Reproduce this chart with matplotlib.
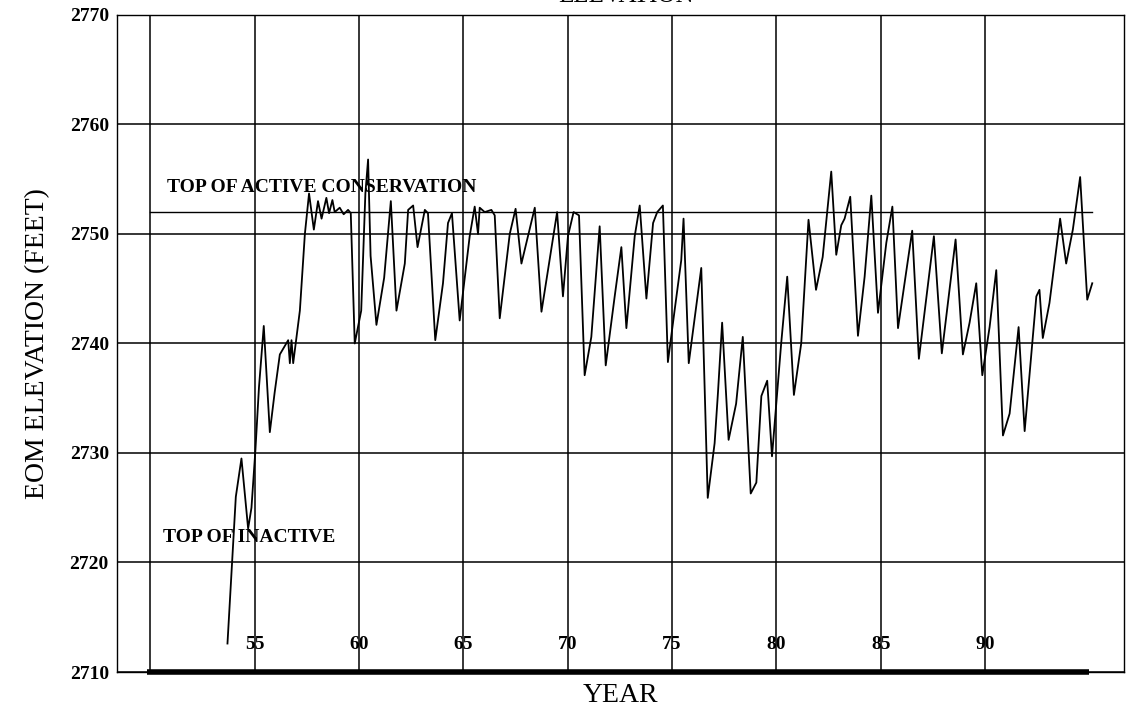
import matplotlib
matplotlib.use("Agg")
import matplotlib.pyplot as plt

# end-of-month elevation (year = 19xx)
years = [53.69, 54.09, 54.36, 54.68, 54.84, 55.03, 55.2, 55.43, 55.72, 55.95,
         56.2, 56.6, 56.68, 56.76, 56.84, 57.16, 57.4, 57.6, 57.83, 58.03,
         58.2, 58.43, 58.56, 58.72, 58.83, 59.07, 59.26, 59.47, 59.6, 59.79,
         60.1, 60.3, 60.43, 60.55, 60.83, 61.2, 61.52, 61.79, 62.19, 62.35,
         62.59, 62.8, 63.15, 63.3, 63.65, 64.02, 64.26, 64.45, 64.82, 65.3,
         65.54, 65.7, 65.78, 66.02, 66.34, 66.5, 66.74, 67.22, 67.5, 67.78,
         68.42, 68.74, 69.49, 69.77, 70.01, 70.28, 70.54, 70.81, 71.13, 71.53,
         71.82, 72.25, 72.57, 72.81, 73.21, 73.45, 73.77, 74.09, 74.29, 74.56,
         74.8, 75.12, 75.44, 75.55, 75.8, 76.4, 76.71, 77.04, 77.2, 77.4,
         77.71, 78.07, 78.39, 78.77, 79.04, 79.28, 79.56, 79.79, 80.23, 80.52,
         80.84, 81.19, 81.54, 81.9, 82.22, 82.63, 82.87, 83.11, 83.27, 83.54,
         83.91, 84.23, 84.55, 84.87, 85.27, 85.56, 85.83, 86.51, 86.83, 87.55,
         87.93, 88.59, 88.94, 89.26, 89.58, 89.87, 90.22, 90.54, 90.86, 91.18,
         91.61, 91.9, 92.46, 92.61, 92.77, 93.09, 93.41, 93.6, 93.89, 94.21,
         94.56, 94.77, 94.9, 95.14]
elevation = [2712.6, 2726.0, 2729.5, 2723.1, 2725.0, 2730.3, 2736.0, 2741.6, 2731.9, 2735.5,
             2739.0, 2740.3, 2738.2, 2740.3, 2738.2, 2743.0, 2750.0, 2753.7, 2750.4, 2753.0,
             2751.4, 2753.3, 2751.9, 2753.1, 2752.0, 2752.4, 2751.8, 2752.2, 2751.9, 2740.0,
             2743.0, 2753.7, 2756.8, 2748.0, 2741.7, 2746.0, 2753.0, 2743.0, 2747.3, 2752.2,
             2752.6, 2748.8, 2752.2, 2751.9, 2740.3, 2745.5, 2751.0, 2751.9, 2742.1, 2749.8,
             2752.5, 2750.0, 2752.4, 2752.0, 2752.2, 2751.7, 2742.3, 2750.0, 2752.3, 2747.3,
             2752.4, 2742.9, 2752.0, 2744.3, 2749.8, 2752.0, 2751.7, 2737.1, 2740.6, 2750.7,
             2738.0, 2744.3, 2748.8, 2741.4, 2749.8, 2752.6, 2744.1, 2751.0, 2752.0, 2752.6,
             2738.3, 2743.0, 2747.6, 2751.4, 2738.2, 2746.9, 2725.9, 2730.9, 2735.5, 2741.9,
             2731.2, 2734.5, 2740.6, 2726.3, 2727.3, 2735.2, 2736.6, 2729.7, 2740.0, 2746.1,
             2735.3, 2740.0, 2751.3, 2744.9, 2747.9, 2755.7, 2748.1, 2750.8, 2751.4, 2753.4,
             2740.7, 2746.1, 2753.5, 2742.8, 2749.2, 2752.5, 2741.4, 2750.3, 2738.6, 2749.8,
             2739.1, 2749.5, 2739.0, 2741.9, 2745.5, 2737.1, 2741.5, 2746.7, 2731.6, 2733.6,
             2741.5, 2732.0, 2744.3, 2744.9, 2740.5, 2743.7, 2748.5, 2751.4, 2747.3, 2750.4,
             2755.2, 2748.2, 2744.0, 2745.5]

active_years = [50.0, 95.15]
active_top = [2752, 2752]
base_years = [49.85, 95.0]
base_level = [2710, 2710]

x_ticks = [50, 55, 60, 65, 70, 75, 80, 85, 90]
x_labels = ["", "55", "60", "65", "70", "75", "80", "85", "90"]
y_ticks = [2710, 2720, 2730, 2740, 2750, 2760, 2770]

plt.rcParams["font.family"] = ["Liberation Serif", "DejaVu Serif"]

fig = plt.figure(figsize=(11.26, 7.13), dpi=100)
ax = fig.add_axes([0.104, 0.0575, 0.894, 0.9215])

ax.plot(years, elevation, color="black", lw=1.3)
ax.plot(active_years, active_top, color="black", lw=1.0)
ax.plot(base_years, base_level, color="black", lw=4, clip_on=False, solid_capstyle="butt")

ax.set_xlim(48.4, 96.65)
ax.set_ylim(2710, 2770)
ax.set_xticks(x_ticks)
ax.set_xticklabels(x_labels, fontweight="bold", fontsize=14)
ax.set_yticks(y_ticks)
ax.set_yticklabels([str(v) for v in y_ticks], fontweight="bold", fontsize=14)
ax.tick_params(axis="x", length=0, pad=-26)
ax.tick_params(axis="y", length=0, pad=6)
ax.grid(True, color="black", lw=1.1)
for s in ax.spines.values():
    s.set_linewidth(1.0)

ax.text(50.78, 2754.2, "TOP OF ACTIVE CONSERVATION", fontsize=14,
        fontweight="bold", va="center")
ax.text(50.6, 2722.3, "TOP OF INACTIVE", fontsize=14,
        fontweight="bold", va="center")

ax.set_xlabel("YEAR", fontsize=20, labelpad=8)
ax.set_ylabel("EOM ELEVATION (FEET)", fontsize=20, labelpad=14)
fig.text(0.556, 1 - 2 / 713, "ELEVATION", fontsize=18, ha="center", va="baseline")

fig.savefig("out.png", dpi=100)
